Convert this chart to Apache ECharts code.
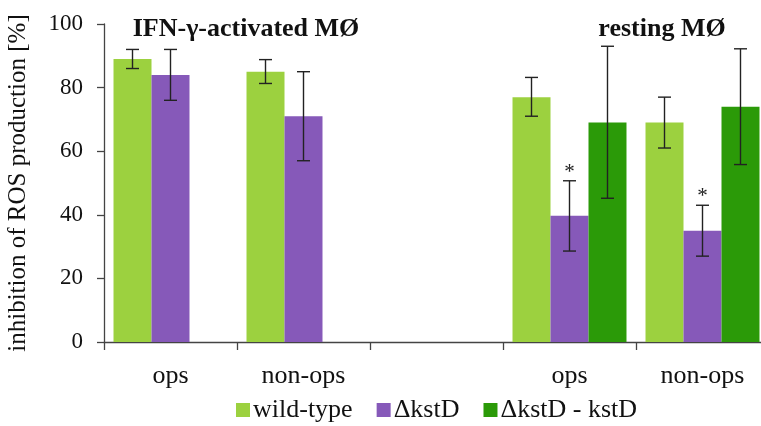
<!DOCTYPE html>
<html>
<head>
<meta charset="utf-8">
<script src="https://cdn.jsdelivr.net/npm/echarts@6/dist/echarts.min.js"></script>
<style>html,body{margin:0;padding:0;background:#fff}#c{width:761px;height:426px}</style>
</head>
<body>
<div id="c"></div>
<script>
const categories = ['ops', 'non-ops', '', 'ops', 'non-ops'];
const seriesNames = ['wild-type', 'ΔkstD', 'ΔkstD - kstD'];
const wildType     = [89, 85, null, 77, 69];
const wildTypeLow  = [86, 81.3, null, 71, 61];
const wildTypeHigh = [92, 88.8, null, 83.2, 77];
const kstD         = [84, 71, null, 39.7, 35];
const kstDLow      = [76, 57, null, 28.6, 27];
const kstDHigh     = [92, 85, null, 50.7, 43];
const kstDComp     = [null, null, null, 69, 74];
const kstDCompLow  = [null, null, null, 45.2, 55.8];
const kstDCompHigh = [null, null, null, 93, 92.2];
const kstDSignificant = [0, 0, 0, 1, 1];
const groupTitles = ['IFN-γ-activated MØ', 'resting MØ'];
const yTicks = [0, 20, 40, 60, 80, 100];

const FONT = "'Liberation Serif', 'Times New Roman', serif";
const COLORS = ['#9cd13f', '#8659b9', '#2b9a08'];
const GAP = 0.143;

function errSeries(k, lows, highs, sig) {
  const data = categories.map((c, i) => [i, lows[i] == null ? NaN : lows[i], highs[i] == null ? NaN : highs[i], sig ? sig[i] : 0]);
  return {
    type: 'custom',
    name: seriesNames[k] + ' err',
    z: 5,
    silent: true,
    data: data,
    renderItem: function (params, api) {
      const idx = api.value(0);
      const lo = api.value(1), hi = api.value(2);
      if (isNaN(lo) || isNaN(hi)) return null;
      const band = api.size([1, 0])[0];
      const bw = band * (1 - GAP) / 3;
      const cx = api.coord([idx, 0])[0] + (k - 1) * bw;
      const yLo = api.coord([idx, lo])[1];
      const yHi = api.coord([idx, hi])[1];
      const cap = 6.5;
      const st = { stroke: '#222', lineWidth: 1.4 };
      const children = [
        { type: 'line', shape: { x1: cx, y1: yLo, x2: cx, y2: yHi }, style: st },
        { type: 'line', shape: { x1: cx - cap, y1: yHi, x2: cx + cap, y2: yHi }, style: st },
        { type: 'line', shape: { x1: cx - cap, y1: yLo, x2: cx + cap, y2: yLo }, style: st }
      ];
      if (api.value(3)) {
        children.push({ type: 'text', style: { text: '*', x: cx, y: yHi + 2, textAlign: 'center', textVerticalAlign: 'bottom', fontSize: 21, fontFamily: FONT, fill: '#222' } });
      }
      return { type: 'group', children: children };
    }
  };
}

const chart = echarts.init(document.getElementById('c'));
chart.setOption({
  animation: false,
  grid: { left: 104, right: -8, top: 24, bottom: 84, outerBoundsMode: 'none', containLabel: false },
  legend: {
    data: seriesNames,
    left: 231, top: 392,
    itemWidth: 14, itemHeight: 14, itemGap: 24,
    icon: 'rect',
    textStyle: { fontFamily: FONT, fontSize: 26, color: '#111', padding: [0, 0, 0, -2] }
  },
  graphic: [
    { type: 'text', x: 246, y: 16, style: { text: groupTitles[0], textAlign: 'center', fontFamily: FONT, fontSize: 26, fontWeight: 'bold', fill: '#111' } },
    { type: 'text', x: 662, y: 16, style: { text: groupTitles[1], textAlign: 'center', fontFamily: FONT, fontSize: 26, fontWeight: 'bold', fill: '#111' } }
  ],
  xAxis: {
    type: 'category',
    data: categories,
    axisLine: { lineStyle: { color: '#444', width: 1.3 } },
    axisTick: { show: true, length: 8, lineStyle: { color: '#444', width: 1.3 } },
    axisLabel: { fontFamily: FONT, fontSize: 26, color: '#111', margin: 21, interval: 0 },
    splitLine: { show: false }
  },
  yAxis: {
    type: 'value',
    min: yTicks[0], max: yTicks[yTicks.length - 1], interval: 20,
    name: 'inhibition of ROS production [%]',
    nameLocation: 'middle', nameGap: 73,
    nameTextStyle: { fontFamily: FONT, fontSize: 25, color: '#111' },
    axisLine: { show: true, lineStyle: { color: '#444', width: 1.3 } },
    axisTick: { show: true, length: 7, lineStyle: { color: '#444', width: 1.3 } },
    axisLabel: { fontFamily: FONT, fontSize: 23, color: '#111', margin: 21 },
    splitLine: { show: false }
  },
  series: [
    { type: 'bar', name: seriesNames[0], data: wildType, itemStyle: { color: COLORS[0] }, barGap: '0%', barCategoryGap: (GAP * 100) + '%' },
    { type: 'bar', name: seriesNames[1], data: kstD, itemStyle: { color: COLORS[1] }, barGap: '0%', barCategoryGap: (GAP * 100) + '%' },
    { type: 'bar', name: seriesNames[2], data: kstDComp, itemStyle: { color: COLORS[2] }, barGap: '0%', barCategoryGap: (GAP * 100) + '%' },
    errSeries(0, wildTypeLow, wildTypeHigh),
    errSeries(1, kstDLow, kstDHigh, kstDSignificant),
    errSeries(2, kstDCompLow, kstDCompHigh)
  ]
});
</script>
</body>
</html>
